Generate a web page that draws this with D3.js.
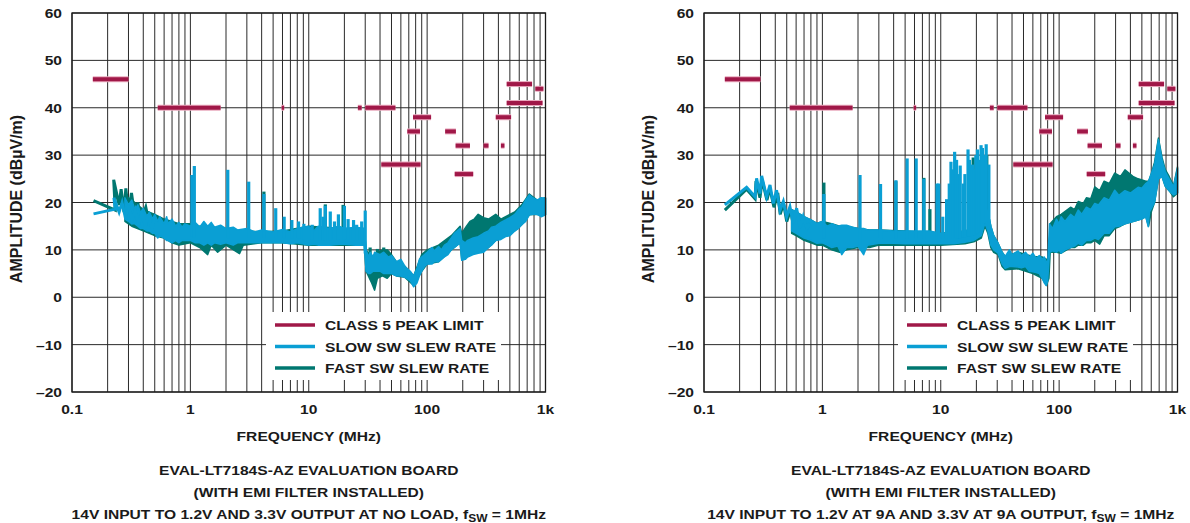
<!DOCTYPE html>
<html>
<head>
<meta charset="utf-8">
<script src="https://cdn.jsdelivr.net/npm/d3@7"></script>
<style>
body { margin: 0; background: #fff; }
svg { display: block; }
text { font-family: "Liberation Sans", Arial, sans-serif; font-weight: bold; fill: #1a1a1a; }
</style>
</head>
<body>
<svg id="chart" width="1190" height="523"></svg>
<script>
// ---- axis / labels ----
var xTicks = [0.1, 1, 10, 100, 1000];
var xTickLabels = ["0.1", "1", "10", "100", "1k"];
var yTicks = [60, 50, 40, 30, 20, 10, 0, -10, -20];
var yTickLabels = ["60", "50", "40", "30", "20", "10", "0", "\u201310", "\u201320"];
var legendLabels = ["CLASS 5 PEAK LIMIT", "SLOW SW SLEW RATE", "FAST SW SLEW RATE"];
var footerLeft = ["EVAL-LT7184S-AZ EVALUATION BOARD", "(WITH EMI FILTER INSTALLED)", "14V INPUT TO 1.2V AND 3.3V OUTPUT AT NO LOAD, "];
var footerRight = ["EVAL-LT7184S-AZ EVALUATION BOARD", "(WITH EMI FILTER INSTALLED)", "14V INPUT TO 1.2V AT 9A AND 3.3V AT 9A OUTPUT, "];

// CISPR 25 class 5 peak limit: [fStart MHz, fEnd MHz, dBuV/m]
var limitSegs = [[0.15, 0.3, 46], [0.53, 1.8, 40], [5.9, 6.2, 40], [26, 28, 40], [30, 54, 40],
  [41, 88, 28], [68, 87, 35], [76, 108, 38], [142, 175, 35], [174, 230, 32], [171, 245, 26],
  [300, 330, 32], [380, 512, 38], [420, 450, 32], [470, 770, 45], [470, 944, 41], [820, 960, 44]];

// ---- left panel (no load) ----
// low-frequency zigzag part [MHz, dB]
var leftSlowLow = [[0.152, 17.6], [0.232, 18.6], [0.226, 21], [0.25, 18], [0.265, 20], [0.283, 16.7], [0.3, 19.3],
  [0.322, 16.3], [0.343, 18.4], [0.366, 15.3], [0.39, 18], [0.417, 15], [0.44, 17.5], [0.475, 14.5], [0.5, 17]];
var leftFastLow = [[0.152, 20.4], [0.232, 18.4], [0.225, 24.8], [0.25, 19.5], [0.26, 22.8], [0.275, 18], [0.285, 23],
  [0.3, 17.5], [0.318, 22], [0.34, 17], [0.36, 20], [0.38, 16], [0.42, 19], [0.45, 15.5], [0.5, 17.5]];
// noise band [MHz, low dB, high dB]
var leftSlowBand = [[0.28, 16.5, 21], [0.3, 16, 19.5], [0.32, 15.5, 20.5], [0.34, 15.5, 18.5], [0.36, 15, 19.5],
  [0.38, 14.5, 17.8], [0.4, 14.5, 18.8], [0.43, 14, 17], [0.45, 14, 18], [0.48, 13.5, 16.5], [0.5, 13.5, 17.5],
  [0.53, 12.5, 16], [0.55, 13, 17], [0.6, 12.5, 15.5], [0.63, 12, 17], [0.65, 12, 15.5], [0.7, 11.5, 16.5],
  [0.75, 12, 15], [0.8, 11.5, 15.8], [0.85, 12, 14.8], [0.9, 12, 15.5], [1.0, 12, 15], [1.1, 11.5, 15.8],
  [1.2, 11.5, 14.8], [1.3, 11, 16], [1.4, 11.5, 15], [1.5, 11, 15.8], [1.6, 11.5, 14.8], [1.8, 11.2, 15.2],
  [2.0, 11.5, 14.5], [2.3, 11, 14.8], [2.5, 11.5, 14.2], [3, 11.5, 14.5], [3.5, 11.5, 13.8], [4, 11.5, 14.2],
  [5, 11.5, 13.8], [6, 11.5, 14.3], [7, 11.3, 13.8], [8, 11.5, 14.5], [10, 11, 15], [11, 11.2, 14], [12, 11, 15],
  [15, 11, 14.5], [18, 11.2, 15], [20, 11.2, 14.5], [25, 11, 14.8], [29.5, 11, 14.5], [30.5, 5.5, 10], [32, 5, 8.5],
  [33, 5, 9.5], [35, 5.5, 8.5], [36, 5.5, 9.5], [40, 5.5, 9], [43, 5, 9.5], [47, 5, 8.5], [50, 5, 8.8], [55, 4.5, 7.5],
  [60, 4.5, 8], [65, 4.2, 6.5], [72, 3.5, 5.5], [77, 2.2, 4.5], [82, 3, 6], [86, 4.5, 8], [90, 5.5, 8.5], [95, 6.5, 9],
  [100, 7, 9.5], [110, 7, 10.5], [115, 7.5, 9.8], [125, 7.5, 10.7], [132, 8, 10], [140, 8.5, 11], [150, 9, 11.5],
  [160, 10, 12.5], [170, 10.5, 13.5], [180, 11, 14], [190, 11.5, 14.5], [196, 7.8, 12], [210, 8, 11.5],
  [220, 8.5, 12], [245, 9, 12.5], [270, 9.3, 12.8], [300, 9.5, 13.5], [330, 10.5, 14], [350, 11, 14.8],
  [380, 12, 15], [420, 12.2, 15.8], [460, 12.8, 16.3], [500, 13, 16.8], [550, 14, 17.5], [590, 14.5, 18.5],
  [630, 15.3, 19], [680, 16, 20.5], [730, 17.4, 21.6], [780, 17.5, 21], [850, 17.5, 20.5], [920, 17, 21],
  [1000, 17.4, 20.9]];
var leftFastBand = [[0.28, 16, 21.5], [0.32, 15, 20.5], [0.4, 14, 18.5], [0.5, 13, 17.5], [0.6, 12.5, 16.5],
  [0.7, 11.5, 16], [0.8, 11, 15.5], [1.0, 11.5, 15.5], [1.2, 10.5, 15], [1.4, 9, 15], [1.5, 11, 15], [1.7, 9.5, 14.5],
  [2.0, 11, 14.5], [2.6, 9.2, 14], [2.8, 11, 14], [4, 11.5, 13.8], [6, 11.5, 14], [10, 11, 15], [20, 11, 14.5],
  [29.5, 11, 14.5], [30.5, 5.5, 10], [34, 3, 8.5], [36, 1.5, 9], [38, 4, 9.5], [42, 4.5, 10], [46, 4, 10],
  [50, 5, 9], [55, 4.5, 7.5], [65, 4.2, 6.5], [77, 2.5, 4.5], [90, 5.5, 9], [100, 7, 10], [125, 7.5, 11],
  [160, 10, 13], [190, 11.5, 15], [196, 8, 13.5], [215, 8.5, 15], [230, 9, 16], [250, 9.3, 16.5], [270, 9.5, 17.5],
  [300, 10, 16.8], [330, 10.5, 16.5], [380, 12, 17.5], [420, 12.5, 16.5], [460, 13, 17], [550, 14, 18],
  [630, 15.3, 19.5], [730, 17.4, 21.8], [850, 17.5, 20.5], [1000, 17.4, 21]];
// spikes [MHz, peak dB]
var leftSlowSpikes = [[1.03, 25.8], [1.08, 27.7], [2.07, 26.9], [3.11, 24.4], [4.18, 21.8], [5.26, 18.8], [6.2, 17],
  [7.2, 16.3], [8.2, 16], [9.1, 15.5], [10.7, 15.3], [12.5, 18.8], [13.2, 17], [13.8, 19.3], [15.2, 18.1], [16.5, 16],
  [17.8, 17.5], [20, 19.3], [21.5, 16.5], [23.9, 16.3], [25.4, 15.3], [28, 16], [30, 18.3]];
var leftFastSpikes = [[4.18, 22.3], [13.8, 19.6], [19.5, 19.5], [33, 10.5], [38, 10.2], [43, 10.5]];

// ---- right panel (9A load) ----
var rightSlowLow = [[0.15, 19.5], [0.229, 23.2], [0.27, 21.2], [0.278, 25.1], [0.297, 21.9], [0.307, 25.6],
  [0.338, 21.2], [0.361, 23.7], [0.385, 19.8], [0.41, 22.6], [0.439, 18.4], [0.468, 20.2], [0.499, 17], [0.532, 19.1],
  [0.567, 15.6], [0.606, 18.8], [0.646, 14.6], [0.689, 17], [0.74, 14.5], [0.783, 15.6]];
var rightFastLow = [[0.15, 18.4], [0.229, 22.8], [0.27, 20.8], [0.275, 24.5], [0.297, 21], [0.31, 24.8], [0.34, 20.5],
  [0.36, 23], [0.39, 19], [0.42, 22], [0.44, 17.5], [0.47, 19.8], [0.5, 16], [0.54, 18.5], [0.57, 14.8], [0.61, 18],
  [0.65, 14], [0.7, 16.5], [0.78, 14.5]];
var rightSlowBand = [[0.55, 14, 18.5], [0.6, 13.5, 18], [0.7, 12.5, 17], [0.8, 12, 16.3], [0.9, 11.4, 15.6],
  [1.0, 11.5, 16], [1.1, 11, 15], [1.2, 10.5, 15.5], [1.35, 10.8, 15], [1.46, 9, 15.2], [1.6, 10.5, 15.2],
  [1.8, 10.5, 14.8], [2.0, 10.8, 14.5], [2.23, 9, 14.5], [2.4, 11, 14.2], [3, 11.4, 14.2], [4, 11.4, 14],
  [5, 11.3, 14], [6, 11.3, 14], [8, 11.3, 14], [10, 11.3, 13.5], [13, 11.3, 13.5], [16, 11.6, 14], [19, 12, 14.5],
  [22, 13, 16.5], [23.6, 15.6, 19], [25, 14, 18], [26.5, 11, 15], [28, 10, 13], [30.5, 9.3, 11.4], [33, 7, 9.5],
  [35, 6.1, 8.6], [38, 6.5, 10], [40, 6.5, 9], [45, 6.4, 9.8], [48, 6.2, 8.8], [52, 6.5, 9.5], [56, 5.5, 8.5],
  [60, 5.4, 9.3], [64, 5.2, 8.2], [68, 5, 8.8], [72, 4, 8], [75, 3, 8.5], [78, 2.5, 7.5], [80, 3.5, 7],
  [83, 9.5, 15.5], [88, 9.8, 14.5], [95, 9.5, 16.5], [100, 10, 15.5], [104, 9.3, 17], [112, 10, 16],
  [125, 10.5, 17.5], [135, 10.8, 16.8], [145, 11.4, 18.4], [155, 11, 17.5], [170, 12, 19], [185, 12, 18.5],
  [200, 12.5, 19.8], [215, 12.2, 19.5], [240, 13.5, 21], [265, 13.5, 20.5], [295, 14.9, 22.6], [320, 15, 21.5],
  [360, 15.5, 22.5], [400, 15.8, 22], [465, 16.3, 23.2], [500, 16.5, 23], [540, 17, 24], [566, 14.9, 24.4],
  [580, 18, 25], [640, 20, 28], [690, 25, 33.3], [740, 25.5, 29], [787, 23.5, 26.6], [850, 22.5, 25],
  [925, 21.6, 23.3], [1000, 22, 27.2]];
var rightFastBand = [[0.55, 13.5, 18.5], [0.6, 13, 18], [0.7, 12, 17], [0.8, 11.5, 16.3], [0.9, 11, 15.6],
  [1.0, 11, 16], [1.2, 10, 15.5], [1.4, 9.5, 15], [1.6, 10, 15], [2.0, 10.5, 14.5], [2.5, 10.5, 14.2], [3, 11, 14.2],
  [5, 11, 14], [10, 11, 13.5], [16, 11.3, 14], [19, 11.7, 14.5], [22, 12.5, 16.5], [23.6, 15, 19], [25, 13.5, 18],
  [26.5, 10.5, 15], [28, 9.5, 13], [30.5, 9, 11.4], [33, 6.5, 9.5], [35, 5.8, 8.6], [45, 6, 9.5], [60, 5, 8.6],
  [72, 4, 8.5], [78, 2.5, 8], [82, 4, 8], [84, 9.5, 15.5], [95, 9.5, 17], [104, 9.3, 17.5], [125, 10.5, 19],
  [135, 10.5, 18.5], [145, 11, 20.2], [160, 11, 19.8], [170, 11.5, 21], [185, 11.5, 20.8], [200, 12, 23.3],
  [220, 11.2, 22.5], [240, 13, 24.5], [265, 13, 24], [295, 14.5, 26.2], [330, 15, 25.5], [360, 15.5, 26.9],
  [420, 16, 25.5], [465, 16.3, 25], [540, 17, 24.5], [570, 15, 24.5], [600, 18, 26], [640, 20, 28.5],
  [690, 25, 33.6], [740, 25.5, 29.5], [787, 23.5, 27], [850, 22.5, 25.5], [925, 21.2, 23.5], [1000, 22, 27.5]];
var rightSlowSpikes = [[1.03, 21.8], [2.08, 25.8], [3.1, 23.9], [4.18, 24.7], [5.2, 29.3], [6.2, 29.3], [7.2, 25],
  [9.3, 24], [9.6, 24], [10.4, 17], [11.2, 20.7], [11.8, 24], [12.2, 28.6], [12.7, 27], [13.1, 30.7], [13.6, 29],
  [14, 26], [14.6, 27.8], [15.5, 24], [16, 26], [17.0, 31.2], [17.5, 29], [18.5, 28], [19.3, 27], [19.8, 30],
  [20.4, 31.2], [21.2, 29], [21.9, 32.1], [22.5, 31.5], [23, 30], [24.2, 32.3], [25.5, 28]];
var rightFastSpikes = [[1.03, 24.2], [4.18, 24.5], [7.2, 25.2], [8.1, 18.6], [18.8, 29.5], [24.5, 30]];

var COLOR_LIMIT = "#a01848";
var COLOR_SLOW = "#0a9fd4";
var COLOR_FAST = "#007770";
var SX = 1.2; // glyphs in the picture are a bit wide

var plotW = 473.5, plotH = 379;
var svg = d3.select("#chart");

function txt(parent, x, y, s, anchor, size, rot, sx) {
  var k = sx || SX;
  return parent.append("text")
    .attr("transform", "translate(" + x + "," + y + ") scale(" + k + ",1)" + (rot ? " rotate(-90)" : ""))
    .attr("text-anchor", anchor)
    .style("font-size", size + "px")
    .text(s);
}

function drawPanel(left, top, d) {
  var g = svg.append("g").attr("transform", "translate(" + left + "," + top + ")");
  var x = d3.scaleLog().domain([0.1, 1000]).range([0, plotW]);
  var y = d3.scaleLinear().domain([-20, 60]).range([plotH, 0]);

  // grid
  var vx = [];
  [0.1, 1, 10, 100].forEach(function(dec) {
    for (var k = 1; k < 10; k++) vx.push(dec * k);
  });
  vx.push(1000);
  g.selectAll(".vg").data(vx).enter().append("line")
    .attr("x1", function(v) { return x(v); }).attr("x2", function(v) { return x(v); })
    .attr("y1", 0).attr("y2", plotH)
    .attr("stroke", "#2a2a2a").attr("stroke-width", 1);
  g.selectAll(".hg").data(yTicks).enter().append("line")
    .attr("x1", 0).attr("x2", plotW)
    .attr("y1", function(v) { return y(v); }).attr("y2", function(v) { return y(v); })
    .attr("stroke", "#2a2a2a").attr("stroke-width", 1);

  // limit lines (pink halo + crimson core)
  [["#e9a8bd", 6], [COLOR_LIMIT, 4]].forEach(function(st) {
    g.selectAll(null).data(limitSegs).enter().append("line")
      .attr("x1", function(s) { return x(s[0]); }).attr("x2", function(s) { return x(s[1]); })
      .attr("y1", function(s) { return y(s[2]); }).attr("y2", function(s) { return y(s[2]); })
      .attr("stroke", st[0]).attr("stroke-width", st[1]);
  });

  var area = d3.area().x(function(p) { return x(p[0]); })
    .y0(function(p) { return y(p[1]); }).y1(function(p) { return y(p[2]); });
  var line = d3.line().x(function(p) { return x(p[0]); }).y(function(p) { return y(p[1]); });

  function series(low, band, spikes, color) {
    g.append("path").attr("d", area(band)).attr("fill", color)
      .attr("stroke", color).attr("stroke-width", 1.5).attr("stroke-linejoin", "round");
    g.append("path").attr("d", line(low)).attr("fill", "none")
      .attr("stroke", color).attr("stroke-width", 3).attr("stroke-linejoin", "miter");
    var base = d3.scaleLog().domain(band.map(function(p) { return p[0]; }))
      .range(band.map(function(p) { return p[1]; })).clamp(true);
    g.selectAll(null).data(spikes).enter().append("line")
      .attr("x1", function(s) { return x(s[0]); }).attr("x2", function(s) { return x(s[0]); })
      .attr("y1", function(s) { return y(base(s[0]) + 1); })
      .attr("y2", function(s) { return y(s[1]); })
      .attr("stroke", color).attr("stroke-width", 3.2);
  }
  series(d.fastLow, d.fastBand, d.fastSpikes, COLOR_FAST);
  series(d.slowLow, d.slowBand, d.slowSpikes, COLOR_SLOW);

  // legend
  g.append("rect").attr("x", 194).attr("y", 299).attr("width", 235).attr("height", 68).attr("fill", "#fff");
  var lcol = [COLOR_LIMIT, COLOR_SLOW, COLOR_FAST];
  legendLabels.forEach(function(s, i) {
    var ly = 312 + i * 21.5;
    g.append("line").attr("x1", 203).attr("x2", 243).attr("y1", ly).attr("y2", ly)
      .attr("stroke", lcol[i]).attr("stroke-width", 3.5);
    txt(g, 253, ly + 5, s, "start", 13);
  });

  // frame
  g.append("rect").attr("x", 0).attr("y", 0).attr("width", plotW).attr("height", plotH)
    .attr("fill", "none").attr("stroke", "#1a1a1a").attr("stroke-width", 1.3);

  // tick labels
  yTicks.forEach(function(v, i) { txt(g, -10, y(v) + 5, yTickLabels[i], "end", 13); });
  xTicks.forEach(function(v, i) { txt(g, x(v), plotH + 22, xTickLabels[i], "middle", 13); });

  txt(g, -50.5, 186, "AMPLITUDE (dB\u00b5V/m)", "middle", 16, true, 1);
  txt(g, plotW / 2, plotH + 49, "FREQUENCY (MHz)", "middle", 13);

  // footer
  var cx = plotW / 2;
  txt(g, cx, 462, d.footer[0], "middle", 13);
  txt(g, cx, 484, d.footer[1], "middle", 13);
  var t = txt(g, cx, 506, d.footer[2], "middle", 13);
  t.append("tspan").text("f");
  t.append("tspan").attr("dy", 3).style("font-size", "10px").text("SW");
  t.append("tspan").attr("dy", -3).text(" = 1MHz");
}

drawPanel(72, 13, {
  slowLow: leftSlowLow, fastLow: leftFastLow, slowBand: leftSlowBand, fastBand: leftFastBand,
  slowSpikes: leftSlowSpikes, fastSpikes: leftFastSpikes, footer: footerLeft
});
drawPanel(704, 13, {
  slowLow: rightSlowLow, fastLow: rightFastLow, slowBand: rightSlowBand, fastBand: rightFastBand,
  slowSpikes: rightSlowSpikes, fastSpikes: rightFastSpikes, footer: footerRight
});
</script>
</body>
</html>
